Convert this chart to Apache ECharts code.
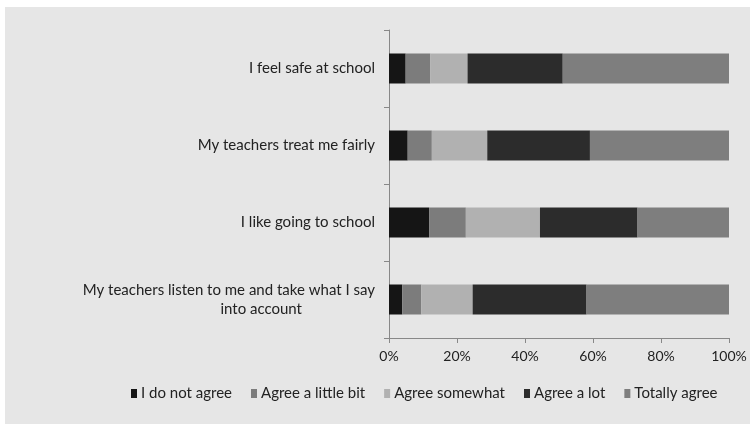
<!DOCTYPE html>
<html><head><meta charset="utf-8">
<script src="https://cdn.jsdelivr.net/npm/echarts@6/dist/echarts.min.js"></script>
<style>html,body{margin:0;padding:0;background:#fff}#c{width:750px;height:424px}</style>
</head><body><div id="c"></div>
<script>
const categories = [
  "My teachers listen to me and take what I say into account",
  "I like going to school",
  "My teachers treat me fairly",
  "I feel safe at school"
];
const seriesNames = ["I do not agree","Agree a little bit","Agree somewhat","Agree a lot","Totally agree"];
const notAgree   = [3.9, 11.8, 5.5, 4.9];
const littleBit  = [5.6, 10.8, 7.1, 7.2];
const somewhat   = [15.1, 21.8, 16.3, 11.0];
const aLot       = [33.5, 28.7, 30.2, 28.0];
const totally    = [41.9, 26.9, 40.9, 48.9];
const xTicks = [0, 20, 40, 60, 80, 100];
const colors = ["#151515","#7c7c7c","#b1b1b1","#2c2c2c","#7e7e7e"];

const values = [notAgree, littleBit, somewhat, aLot, totally];
const chart = echarts.init(document.getElementById('c'), null, {renderer:'canvas'});
const font = 'Lato, "Open Sans", sans-serif';
chart.setOption({
  animation:false,
  backgroundColor:'transparent',
  color: colors,
  graphic:[{type:'rect', z:-10, shape:{x:5,y:7,width:745,height:417}, style:{fill:'#e6e6e6'}}],
  grid:{left:389,right:21,top:30,bottom:86,containLabel:false},
  legend:{
    top:381, left:126, itemWidth:6, itemHeight:9, itemGap:19,
    textStyle:{fontFamily:font,fontSize:15,color:'#222',padding:[0,0,0,-1]},
    icon:'rect',
    data: seriesNames
  },
  xAxis:{
    type:'value', min:0, max:100, interval:20,
    axisLine:{show:true,lineStyle:{color:'#888'}},
    axisTick:{show:true,length:5,lineStyle:{color:'#888'}},
    splitLine:{show:false},
    axisLabel:{formatter:v=>v+'%', fontFamily:font,fontSize:14,color:'#222',margin:11}
  },
  yAxis:{
    type:'category', data:categories,
    axisLine:{show:true,lineStyle:{color:'#888'}},
    axisTick:{show:true,length:5,lineStyle:{color:'#888'}},
    axisLabel:{
      fontFamily:font,fontSize:15,color:'#222',margin:14,lineHeight:19,
      formatter:(v)=>{
        if(v.indexOf('into account')>0){ return 'My teachers listen to me and take what I say\n{b|into account}'; }
        return v;
      },
      rich:{b:{fontFamily:font,fontSize:15,color:'#222',lineHeight:19,padding:[0,73,0,0]}}
    }
  },
  series: seriesNames.map((n,i)=>({
    name:n, type:'bar', stack:'s', data:values[i], barWidth:30,
    itemStyle:{color:colors[i]}
  }))
});
</script></body></html>
